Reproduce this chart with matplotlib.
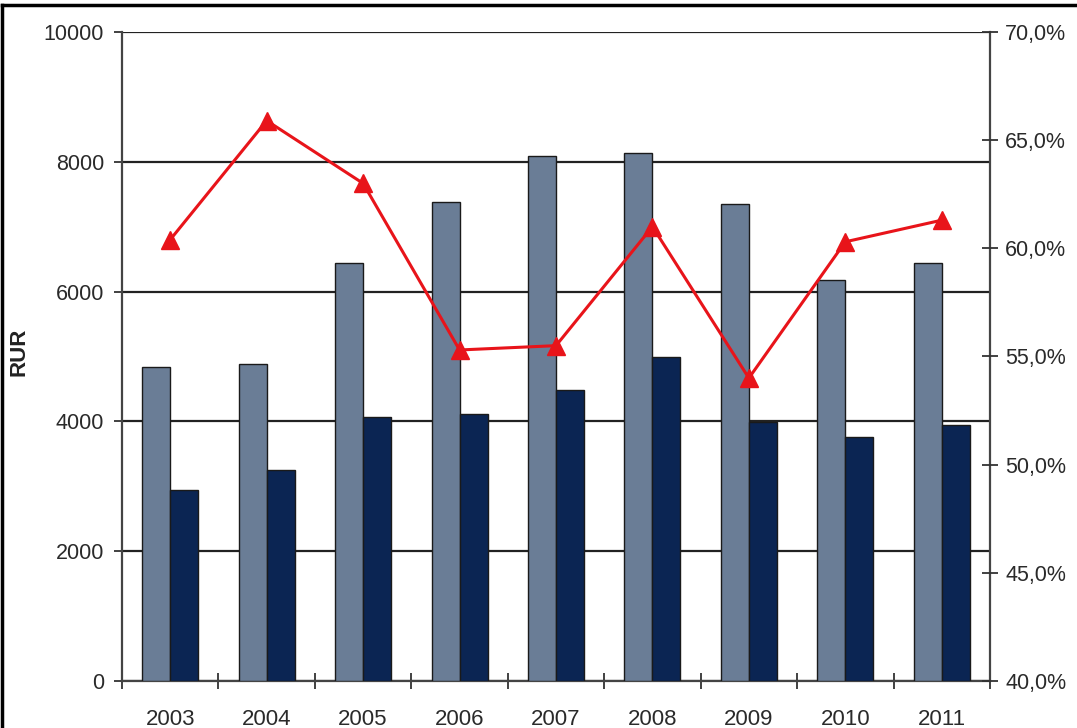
import numpy as np
import matplotlib.pyplot as plt
from matplotlib.ticker import FuncFormatter, FixedLocator
from matplotlib.lines import Line2D

plt.rcParams['font.family'] = ['Liberation Sans', 'DejaVu Sans']

years = ['2003', '2004', '2005', '2006', '2007', '2008', '2009', '2010', '2011']
light_vals = [4840, 4880, 6440, 7380, 8090, 8130, 7350, 6180, 6440]
dark_vals = [2940, 3250, 4070, 4110, 4480, 4990, 3990, 3760, 3940]
share_pct = [60.4, 65.9, 63.0, 55.3, 55.5, 61.0, 54.0, 60.3, 61.3]

fig = plt.figure(figsize=(10.77, 7.28), dpi=100)
ax = fig.add_axes([0.1133, 0.0646, 0.8059, 0.8915])

x = np.arange(len(years))
w = 0.29
ax.bar(x - w / 2, light_vals, w, color='#6a7d96', edgecolor='#1a1a1a', linewidth=1.0, zorder=3)
ax.bar(x + w / 2, dark_vals, w, color='#0b2553', edgecolor='#1a1a1a', linewidth=1.0, zorder=3)

ax.set_xlim(-0.5, len(years) - 0.5)
ax.set_ylim(0, 10000)
ax.set_yticks(np.arange(0, 10001, 2000))
ax.yaxis.grid(True, color='#222222', linewidth=1.6, zorder=0)
ax.set_axisbelow(True)

# category boundaries get ticks, labels sit at centres
ax.xaxis.set_major_locator(FixedLocator(np.arange(-0.5, len(years), 1.0)))
ax.xaxis.set_major_formatter(FuncFormatter(lambda v, p: ''))
ax.xaxis.set_minor_locator(FixedLocator(x))
ax.set_xticklabels(years, minor=True)
ax.tick_params(axis='x', which='major', direction='inout', length=12, width=1.3, color='#333333')
ax.tick_params(axis='x', which='minor', length=0, pad=20, labelsize=16, labelcolor='#2a2a2a')
ax.tick_params(axis='y', direction='out', length=6, width=1.3, color='#333333',
               labelsize=15.5, labelcolor='#2a2a2a', pad=7)

for side in ['left', 'right', 'bottom']:
    ax.spines[side].set_color('#444444')
    ax.spines[side].set_linewidth(1.6)
ax.spines['top'].set_visible(False)

fig.text(19 / 1077, 1 - 352 / 728, 'RUR', rotation=90, fontsize=16, fontweight='bold',
         color='#222222', ha='center', va='center')

ax2 = ax.twinx()
ax2.set_ylim(40, 70)
ax2.set_yticks(np.arange(40, 71, 5))
ax2.yaxis.set_major_formatter(FuncFormatter(lambda v, p: ('%.1f%%' % v).replace('.', ',')))
ax2.tick_params(axis='y', direction='inout', length=12, width=1.3, color='#333333',
                labelsize=15.5, labelcolor='#2a2a2a', pad=5)
for side in ['left', 'right', 'bottom', 'top']:
    ax2.spines[side].set_visible(False)

ax2.plot(x, share_pct, color='#e8141a', linewidth=2.2, marker='^', markersize=13,
         markerfacecolor='#e8141a', markeredgecolor='#e8141a', zorder=5)

# frame lines along the top and left edge of the picture
fig.add_artist(Line2D([0.002, 1.0], [0.993, 0.993], color='black', linewidth=2.5))
fig.add_artist(Line2D([0.002, 0.002], [0.0, 0.993], color='black', linewidth=2.5))

fig.savefig('out.png', dpi=100)
